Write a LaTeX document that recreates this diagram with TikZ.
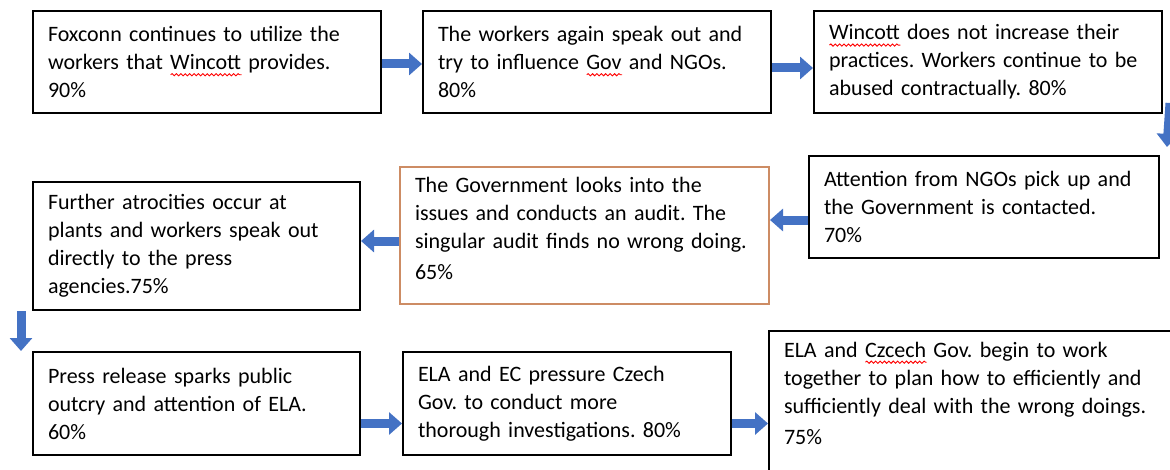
\documentclass[tikz,border=0pt]{standalone}
\usepackage{fontspec}
\setmainfont{Carlito}
\usepackage{tikz}
\usetikzlibrary{positioning,arrows.meta,decorations.pathmorphing}

\definecolor{arrowblue}{RGB}{68,114,196}
\definecolor{auditorange}{RGB}{205,140,100}
\frenchspacing
\hyphenpenalty=10000
% red wavy line of the spell checker
\newlength{\spellwd}
\newcommand{\spellmark}[1]{\settowidth{\spellwd}{#1}\rlap{\raisebox{-2.6pt}{\tikz[baseline=0pt]\draw[red, line width=0.45pt, decorate, decoration={snake, amplitude=0.55pt, segment length=2.2pt}] (0pt,0pt) -- (\spellwd,0pt);}}#1}

\begin{document}
\begin{tikzpicture}[x=1pt, y=1pt,
    box/.style = {draw, line width=1pt, anchor=north west, align=left, inner xsep=7.5pt, inner ysep=3pt, font=\fontsize{11}{14}\selectfont},
    flow/.style = {draw=arrowblue, line width=4.5pt, -{Triangle[length=6.5pt,width=11pt]}}]
    \clip (0,0) rectangle (585,-235);
    % top row
    \node[box, text width=159pt, minimum height=51pt] (1) at (16,-5) {Foxconn continues to utilize the\\ workers that \spellmark{Wincott} provides.\\ 90\%};
    \node[box, text width=159pt, minimum height=51pt] (2) [right=20pt of 1] {The workers again speak out and\\ try to influence \spellmark{Gov} and NGOs.\\ 80\%};
    \node[box, text width=159pt, minimum height=51pt] (3) [right=20.5pt of 2] {\spellmark{Wincott} does not increase their\\ practices. Workers continue to be\\ abused contractually. 80\%};
    % middle row
    \node[box, text width=160pt, minimum height=51pt] (4) at (404,-77.5) {Attention from NGOs pick up and\\ the Government is contacted.\\ 70\%};
    \node[box, draw=auditorange, text width=169.5pt, minimum height=68.5pt, text depth=51pt] (5) at (199.5,-83) {The Government looks into the\\ issues and conducts an audit. The\\ singular audit finds no wrong doing.\\[1.5pt] 65\%};
    \node[box, text width=148.5pt, minimum height=64pt] (6) at (16,-90.5) {Further atrocities occur at\\ plants and workers speak out\\ directly to the press\\ agencies.75\%};
    % bottom row
    \node[box, text width=148.5pt, minimum height=51.5pt] (7) at (16,-175.5) {Press release sparks public\\ outcry and attention of ELA.\\ 60\%};
    \node[box, text width=149pt, minimum height=51.5pt] (8) [right=20.5pt of 7] {ELA and EC pressure Czech\\ Gov. to conduct more\\ thorough investigations. 80\%};
    \node[box, text width=205pt, text height=10pt, text depth=70pt] (9) at (384,-165) {ELA and \spellmark{Czcech} Gov. begin to work\\ together to plan how to efficiently and\\ sufficiently deal with the wrong doings.\\[1.5pt] 75\%};

    \coordinate (a45) at ([yshift=-6.5pt]4.west);
    \coordinate (a56) at ([yshift=-2.75pt]5.west);
    \coordinate (a89) at ([yshift=-10pt]8.east);
    \draw[flow] ([yshift=-1pt]1.east) -- ([yshift=-1pt]2.west);
    \draw[flow] ([yshift=-3pt]2.east) -- ([yshift=-3pt]3.west);
    \draw[flow] ([xshift=3.5pt,yshift=5.5pt]3.south east) -- ([xshift=3.5pt,yshift=4pt]4.north east);
    \draw[flow] (a45) -- (a45 -| 5.east);
    \draw[flow] (a56) -- (a56 -| 6.east);
    \draw[flow] ([xshift=-5.5pt]6.south west) -- ([xshift=-5.5pt]7.north west);
    \draw[flow] ([yshift=-10pt]7.east) -- ([yshift=-10pt]8.west);
    \draw[flow] (a89) -- (a89 -| 9.west);
\end{tikzpicture}
\end{document}
